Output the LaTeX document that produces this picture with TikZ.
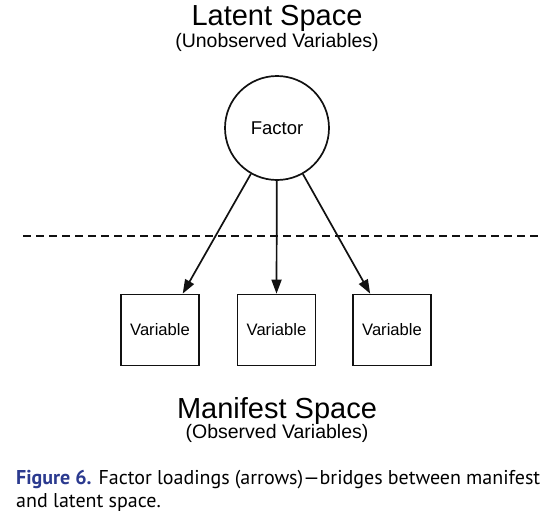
\documentclass[tikz,border=0pt]{standalone}
\usepackage{fontspec}
\setmainfont{Liberation Sans}
\newfontfamily\captionfont[Ligatures=TeX]{PT Sans}
\usepackage{xcolor}
\definecolor{figblue}{HTML}{2B3A8F}
\definecolor{figblack}{HTML}{111111}
\usetikzlibrary{arrows.meta, positioning}

\begin{document}
\begin{tikzpicture}[
        x=1pt, y=-1pt,
        factorcirc/.style={circle, draw=figblack, line width=1.7pt,
                       minimum size=104pt, inner sep=0pt,
                       font=\fontsize{18.5}{20}\selectfont},
        varbox/.style={rectangle, draw=figblack, line width=1.7pt,
                         minimum width=78pt, minimum height=71pt,
                         inner sep=0pt, font=\fontsize{16.6}{18}\selectfont},
        loading/.style={figblack, line width=1.7pt,
                        -{Triangle[length=14pt, width=10pt]}},
        divider/.style={figblack, line width=1.7pt,
                        dash pattern=on 8pt off 5pt},
        spacetitle/.style={anchor=base, inner sep=0pt,
                           font=\fontsize{29}{32}\selectfont},
        spacesub/.style={anchor=base, inner sep=0pt,
                         font=\fontsize{19.5}{22}\selectfont}
      ]
        \useasboundingbox (0,0) rectangle (552,528);
        % Latent space (top)
        \node[spacetitle] (latent)    at (277,25) {Latent Space};
        \node[spacesub]   (latentsub) at (277,47) {(Unobserved Variables)};
        \node[factorcirc] (f) at (277,128) {Factor};
        % Divider between the two spaces
        \coordinate (divl) at (23,236);
        \coordinate (divr) at (540,236);
        \draw[divider] (divl) -- (divr);
        % Manifest variables
        \node[varbox] (v1) at (160,330) {Variable};
        \node[varbox] (v2) at (276.5,330) {Variable};
        \node[varbox] (v3) at (392,330) {Variable};
        % Factor loadings
        \draw[loading] (f) -- (v1.58);
        \draw[loading] (f) -- (v2.north);
        \draw[loading] (f) -- (v3.121);
        % Manifest space (bottom)
        \node[spacetitle] (manifest)    at (277,418) {Manifest Space};
        \node[spacesub]   (manifestsub) at (277,438) {(Observed Variables)};
        % Caption
        \node[anchor=north west, inner sep=0pt, text width=524pt,
              align=justify, font=\captionfont\fontsize{20}{23}\selectfont]
          (caption) at (16,470)
          {\textcolor{figblue}{\bfseries Figure 6.} Factor loadings
           (arrows)\textemdash bridges between manifest\linebreak
           and latent space.};
      \end{tikzpicture}
\end{document}
